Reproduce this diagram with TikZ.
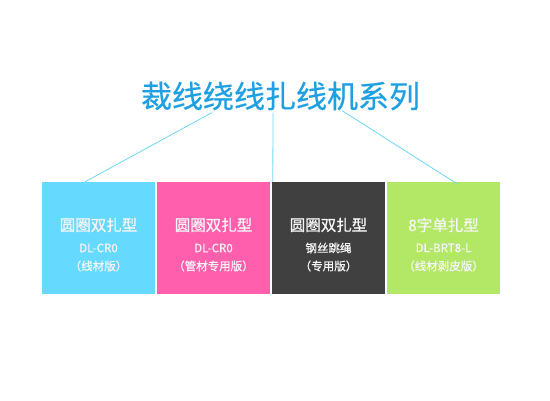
\documentclass[tikz,border=0pt]{standalone}
\usepackage{fontspec}
\newfontfamily\cjk[FakeBold=0.5]{Noto Sans CJK SC}
\newfontfamily\cjkb[FakeBold=0.8]{Noto Sans CJK SC}
\definecolor{titleblue}{HTML}{1EA0E2}
\definecolor{linkblue}{HTML}{6ED8F6}
\definecolor{boxcyan}{HTML}{66D9FF}
\definecolor{boxpink}{HTML}{FF5FAC}
\definecolor{boxdark}{HTML}{404040}
\definecolor{boxgreen}{HTML}{B3E866}
\definecolor{boxtext}{HTML}{F6F6F6}
\tikzset{
  panel/.style={minimum width=113pt, minimum height=112pt, inner sep=0pt, draw=none},
  headtext/.style={text=boxtext, inner sep=0pt, font=\cjkb\fontsize{15.5}{18}\selectfont},
  subtext/.style={text=boxtext, inner sep=0pt, font=\cjkb\fontsize{11.5}{14}\selectfont},
  link/.style={draw=linkblue, line width=0.8pt},
}
\newcommand\mypanel[6]{%
  \node[panel, fill=#3] (#1) at (#2,238) {};
  \node[headtext] (#1h) at ([yshift=13pt]#1.center) {#4};
  \node[subtext] (#1a) at ([yshift=-10pt]#1.center) {#5};
  \node[subtext] (#1b) at ([yshift=-28pt]#1.center) {#6};
}
\begin{document}
\begin{tikzpicture}[x=1pt,y=-1pt]
\useasboundingbox (0,0) rectangle (550,400);
\fill[white] (0,0) rectangle (550,400);
\node[text=titleblue, inner sep=0pt, font=\cjk\fontsize{31}{34}\selectfont] (title) at (280.5,96) {裁线绕线扎线机系列};
\mypanel{p1}{98.5}{boxcyan}{圆圈双扎型}{DL-CR0}{（线材版）}
\mypanel{p2}{213.5}{boxpink}{圆圈双扎型}{DL-CR0}{（管材专用版）}
\mypanel{p3}{328.5}{boxdark}{圆圈双扎型}{钢丝跳绳}{（专用版）}
\mypanel{p4}{443.5}{boxgreen}{8字单扎型}{DL-BRT8-L}{（线材剥皮版）}
\coordinate (s1) at ([xshift=-68.5pt,yshift=-2pt]title.south);
\coordinate (s2) at ([xshift=-7.5pt,yshift=-2pt]title.south);
\coordinate (s3) at ([xshift=61.5pt,yshift=-0pt]title.south);
\draw[link] (s1) -- ([xshift=-13.5pt]p1.north);
\draw[link] (s2) -- ([xshift=1pt]p3.north west);
\draw[link] (s3) -- ([xshift=13.5pt,yshift=-2pt]p4.north);
\end{tikzpicture}
\end{document}
